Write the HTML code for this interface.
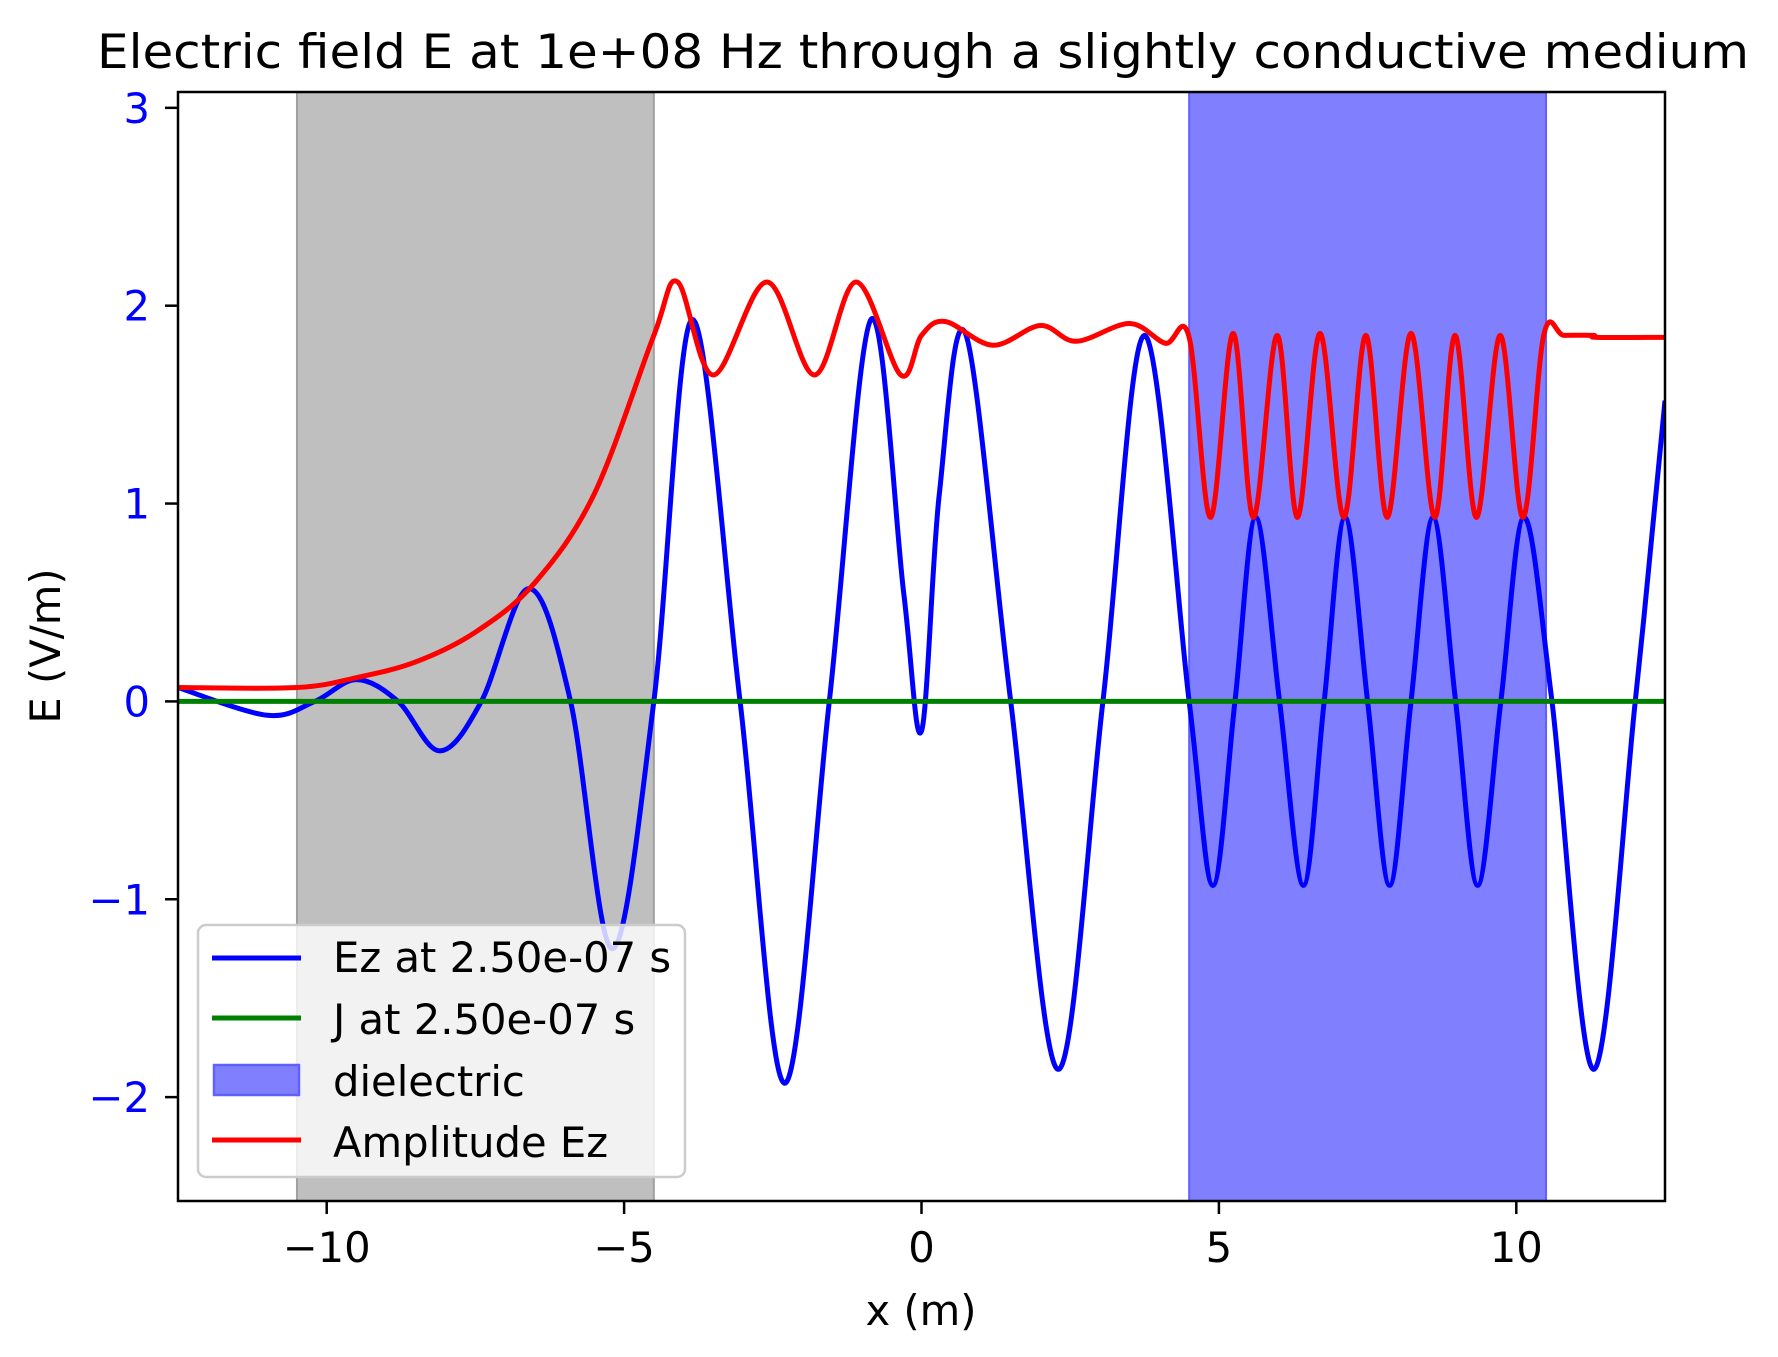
<!DOCTYPE html>
<html><head><meta charset="utf-8"><style>
html,body{margin:0;padding:0;background:#fff;}
svg{display:block;font-family:"DejaVu Sans","Liberation Sans",sans-serif;}
</style></head><body>
<svg id="chart" width="1778" height="1357" viewBox="0 0 1778 1357">
<rect width="1778" height="1357" fill="#fff"/>
<g id="plot"></g>
</svg>
<script>
// ---- data ----
const xTicks = [-10, -5, 0, 5, 10];
const xTickLabels = ["\u221210", "\u22125", "0", "5", "10"];
const yTicks = [-2, -1, 0, 1, 2, 3];
const yTickLabels = ["\u22122", "\u22121", "0", "1", "2", "3"];
const conductorRegion = [-10.5, -4.5];
const dielectricRegion = [4.5, 10.5];
const ezX = [-12.5,-11,-10.2,-9.5,-8.8,-8.1,-7.4,-6.6,-5.9,-5.2,-4.5,-3.85,-3.05,-2.3,-1.55,-0.85,-0.3,0,0.3,0.75,1.5,2.3,3.05,3.75,4.5,4.9,5.27,5.62,6.02,6.42,6.77,7.12,7.5,7.87,8.23,8.6,8.98,9.35,9.74,10.13,10.6,11.3,12.0,12.5];
const ezY = [0.07,-0.07,0,0.11,0,-0.25,0,0.57,0,-1.25,0,1.93,0,-1.93,0,1.93,0.55,-0.15,1.05,1.85,0,-1.86,0,1.85,0,-0.93,0,0.93,0,-0.93,0,0.93,0,-0.93,0,0.93,0,-0.93,0,0.93,0,-1.86,0,1.52];
const ampX = [-12.5,-10.5,-9.5,-8.5,-7.5,-6.5,-5.5,-4.5,-4.1,-3.5,-2.6,-1.8,-1.1,-0.35,0,0.4,1.2,2.0,2.6,3.5,4.1,4.5,4.86,5.24,5.58,5.98,6.32,6.7,7.1,7.47,7.83,8.23,8.63,8.97,9.33,9.73,10.11,10.46,10.8,11.3,11.35,12.5];
const ampY = [0.07,0.07,0.12,0.2,0.35,0.6,1.05,1.85,2.12,1.65,2.12,1.65,2.12,1.65,1.85,1.92,1.8,1.9,1.82,1.91,1.81,1.84,0.93,1.86,0.93,1.85,0.93,1.86,0.93,1.85,0.93,1.86,0.93,1.85,0.93,1.85,0.93,1.85,1.85,1.85,1.84,1.84];
const jX = [-12.5, 12.5];
const jY = [0, 0];

// ---- axes ----
const L=178,R=1665,T=92,B=1201;
const xMin=-12.5,xMax=12.5,yMin=-2.525,yMax=3.08;
const sx=v=>L+(v-xMin)/(xMax-xMin)*(R-L);
const sy=v=>B-(v-yMin)/(yMax-yMin)*(B-T);
const NS="http://www.w3.org/2000/svg";
const g=document.getElementById('plot');
function mk(tag,attrs,parent){const e=document.createElementNS(NS,tag);for(const k in attrs)e.setAttribute(k,attrs[k]);(parent||g).appendChild(e);return e;}

const clip=mk('clipPath',{id:'clip'});mk('rect',{x:L,y:T,width:R-L,height:B-T},clip);

let r=mk('rect',{x:sx(conductorRegion[0]),y:T,width:sx(conductorRegion[1])-sx(conductorRegion[0]),height:B-T,fill:'#bfbfbf',stroke:'#a0a0a0','stroke-width':2});


r=mk('rect',{x:sx(dielectricRegion[0]),y:T,width:sx(dielectricRegion[1])-sx(dielectricRegion[0]),height:B-T,fill:'#8080ff',stroke:'#6060ff','stroke-width':2});



function smoothPath(xs,ys){
  const p=xs.map((x,i)=>[sx(x),sy(ys[i])]);
  let d=`M${p[0][0]},${p[0][1]}`;
  for(let i=0;i<p.length-1;i++){
    const p0=p[i-1]||p[i],p1=p[i],p2=p[i+1],p3=p[i+2]||p[i+1];
    const c1=[p1[0]+(p2[0]-p0[0])/6,p1[1]+(p2[1]-p0[1])/6];
    const c2=[p2[0]-(p3[0]-p1[0])/6,p2[1]-(p3[1]-p1[1])/6];
    d+=` C${c1[0]},${c1[1]} ${c2[0]},${c2[1]} ${p2[0]},${p2[1]}`;
  }
  return d;
}
let p=mk('path',{d:smoothPath(ezX,ezY),fill:'none',stroke:'#0000ff','stroke-width':5,'clip-path':'url(#clip)'});


p=mk('path',{d:smoothPath(jX,jY),fill:'none',stroke:'#008000','stroke-width':5,'clip-path':'url(#clip)'});


p=mk('path',{d:smoothPath(ampX,ampY),fill:'none',stroke:'#ff0000','stroke-width':5,'clip-path':'url(#clip)'});



let fr=mk('rect',{x:L,y:T,width:R-L,height:B-T,fill:'none',stroke:'#000','stroke-width':2.5});



xTicks.forEach((v,i)=>{
  mk('line',{x1:sx(v),x2:sx(v),y1:B,y2:B+13,stroke:'#000','stroke-width':2.5});
  const t=mk('text',{x:sx(v),y:1262,'text-anchor':'middle','font-size':41.7,fill:'#000'});
  t.textContent=xTickLabels[i];
  
  
});
yTicks.forEach((v,i)=>{
  mk('line',{x1:L-13,x2:L,y1:sy(v),y2:sy(v),stroke:'#000','stroke-width':2.5});
  const t=mk('text',{x:150,y:sy(v)+15,'text-anchor':'end','font-size':41.7,fill:'#0000ff'});
  t.textContent=yTickLabels[i];
  
  
});
</script>
<script>
const s=document.getElementById('chart');
const N="http://www.w3.org/2000/svg";
function add(tag,a,txt){const e=document.createElementNS(N,tag);for(const k in a)e.setAttribute(k,a[k]);if(txt)e.textContent=txt;s.appendChild(e);return e;}
let e=add('text',{x:923,y:68,'text-anchor':'middle','font-size':47,textLength:1652,lengthAdjust:'spacingAndGlyphs'},'Electric field E at 1e+08 Hz through a slightly conductive medium');


e=add('text',{x:921,y:1325,'text-anchor':'middle','font-size':41.7},'x (m)');


e=add('text',{x:60,y:646,'text-anchor':'middle','font-size':41.7,transform:'rotate(-90 60 646)'},'E (V/m)');


// legend
e=add('rect',{x:198,y:925,width:487,height:252,rx:8,fill:'#ffffff','fill-opacity':0.8,stroke:'#cccccc','stroke-width':2.5});


const items=[['Ez at 2.50e-07 s','#0000ff',958,972,'line'],['J at 2.50e-07 s','#008000',1018,1034,'line'],['dielectric','#8080ff',1080,1096,'patch'],['Amplitude Ez','#ff0000',1140,1157,'line']];
items.forEach(it=>{
  let h;
  if(it[4]==='line'){h=add('line',{x1:212,x2:301,y1:it[2],y2:it[2],stroke:it[1],'stroke-width':5});}
  else{h=add('rect',{x:214,y:1065,width:85,height:30,fill:'#8080ff',stroke:'#6060ff','stroke-width':2.5});}
  
  
  const t=add('text',{x:333,y:it[3],'font-size':41.7},it[0]);
  
  
});
</script>
</body></html>
